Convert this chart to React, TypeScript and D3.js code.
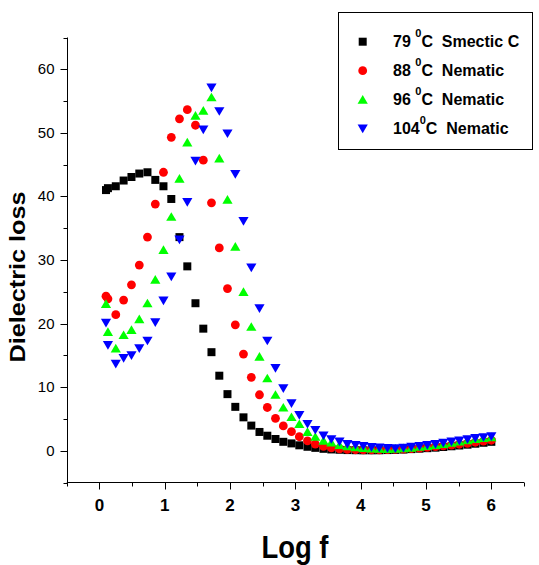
import React from 'react';
import * as d3 from 'd3';

// ---- data ----
const logF = [0.10, 0.13, 0.25, 0.37, 0.49, 0.61, 0.735, 0.855, 0.98, 1.10, 1.225, 1.345, 1.47, 1.59, 1.715, 1.835, 1.96, 2.08, 2.205, 2.325, 2.45, 2.57, 2.695, 2.815, 2.94, 3.06, 3.185, 3.305, 3.43, 3.55, 3.675, 3.795, 3.92, 4.04, 4.165, 4.285, 4.41, 4.53, 4.655, 4.775, 4.90, 5.02, 5.145, 5.265, 5.39, 5.51, 5.635, 5.755, 5.88, 6.00];

const loss79 = [41.0, 41.3, 41.6, 42.5, 43.05, 43.6, 43.8, 42.6, 41.6, 39.6, 33.6, 29.0, 23.2, 19.2, 15.5, 11.8, 8.9, 6.9, 5.25, 3.95, 2.95, 2.36, 1.84, 1.4, 1.15, 0.85, 0.62, 0.45, 0.3,
  0.2, 0.15, 0.1, 0.08, 0.06, 0.06, 0.07, 0.1, 0.13, 0.18, 0.25, 0.32, 0.4, 0.48, 0.58, 0.7, 0.82, 0.95, 1.1, 1.25, 1.4];
const loss88 = [24.3, 23.9, 21.4, 23.7, 26.1, 29.2, 33.6, 38.8, 43.8, 49.3, 52.2, 53.65, 51.2, 45.7, 39.0, 31.9, 25.5, 19.8, 15.2, 11.55, 8.8, 6.8, 5.1, 3.9, 3.0, 2.2, 1.55, 1.05, 0.7,
  0.45, 0.3, 0.2, 0.15, 0.12, 0.12, 0.13, 0.16, 0.2, 0.26, 0.33, 0.42, 0.52, 0.63, 0.75, 0.88, 1.02, 1.17, 1.33, 1.5, 1.65];
const loss96 = [23.1, 18.7, 16.1, 18.2, 19.0, 20.7, 23.2, 26.9, 31.6, 36.8, 42.8, 48.5, 52.7, 53.5, 55.6, 46.0, 39.5, 32.1, 25.0, 19.5, 14.8, 11.4, 8.8, 6.8, 5.3, 4.2, 2.95, 2.2, 1.6,
  1.3, 0.9, 0.7, 0.55, 0.45, 0.38, 0.33, 0.3, 0.32, 0.4, 0.5, 0.62, 0.76, 0.9, 1.07, 1.25, 1.45, 1.65, 1.85, 2.0, 2.15];
const loss104 = [20.1, 16.6, 13.65, 14.55, 15.0, 16.1, 17.3, 20.2, 23.6, 27.4, 33.2, 39.1, 45.6, 50.5, 57.1, 53.4, 49.9, 43.5, 36.1, 28.8, 22.4, 17.3, 13.0, 9.8, 7.45, 5.6, 4.2, 3.26, 2.37,
  1.8, 1.42, 1.05, 0.9, 0.74, 0.55, 0.5, 0.4, 0.38, 0.45, 0.6, 0.72, 0.88, 1.03, 1.22, 1.42, 1.6, 1.8, 1.98, 2.12, 2.25];

const seriesTemps = ['79', '88', '96', '104'];
const seriesPhases = ['Smectic C', 'Nematic', 'Nematic', 'Nematic'];
const seriesValues = [loss79, loss88, loss96, loss104];
const seriesShapes = ['square', 'circle', 'up', 'down'];
const seriesColors = ['#000000', '#ff0000', '#00ff00', '#0000ff'];

const xMajorTicks = [0, 1, 2, 3, 4, 5, 6];
const xMinorTicks = [-0.5, 0.5, 1.5, 2.5, 3.5, 4.5, 5.5, 6.5];
const yMajorTicks = [0, 10, 20, 30, 40, 50, 60];
const yMinorTicks = [-5, 5, 15, 25, 35, 45, 55, 65];

const xTitle = 'Log f';
const yTitle = 'Dielectric loss';

// ---- layout ----
const W = 539, H = 565;
const x = d3.scaleLinear().domain([-0.5, 6.5]).range([66.8, 524]);
const y = d3.scaleLinear().domain([-5, 65]).range([482.5, 37.5]);
const FONT = "'Liberation Sans', Arial, sans-serif";

function Marker({ shape, cx, cy, color }: { shape: string; cx: number; cy: number; color: string }) {
  if (shape === 'circle') return <circle cx={cx} cy={cy} r={4.4} fill={color} />;
  let d = '';
  if (shape === 'square') d = `M${cx - 4},${cy - 4}h8v8h-8Z`;
  else if (shape === 'up') d = `M${cx},${cy - 4.6}L${cx + 5.1},${cy + 4.1}L${cx - 5.1},${cy + 4.1}Z`;
  else d = `M${cx},${cy + 4.6}L${cx + 5.1},${cy - 4.1}L${cx - 5.1},${cy - 4.1}Z`;
  return <path d={d} fill={color} />;
}

export default function App() {
  const x0 = x.range()[0];
  const x1 = x.range()[1];
  const yb = y.range()[0];
  const yt = y.range()[1];
  const axisX = 67.5;
  return (
    <svg width={W} height={H} style={{ position: 'absolute', left: 0, top: 0, background: '#fff' }} fontFamily={FONT}>
      <rect x={0} y={0} width={W} height={H} fill="#fff" />
      {/* data */}
      {seriesValues.map((vals, si) => (
        <g key={si}>
          {vals.map((v, i) => (
            <Marker key={i} shape={seriesShapes[si]} cx={x(logF[i])} cy={y(v)} color={seriesColors[si]} />
          ))}
        </g>
      ))}
      {/* axes */}
      <line x1={axisX} x2={axisX} y1={yt} y2={yb} stroke="#000" strokeWidth={1} />
      <line x1={x0} x2={x1} y1={yb} y2={yb} stroke="#000" strokeWidth={1} />
      {xMajorTicks.map(t => (
        <g key={'xm' + t}>
          <line x1={Math.round(x(t)) + 0.5} x2={Math.round(x(t)) + 0.5} y1={yb} y2={yb + 7} stroke="#000" />
          <text x={x(t)} y={511} textAnchor="middle" fontWeight="bold" fontSize={17}>{t}</text>
        </g>
      ))}
      {xMinorTicks.map(t => (
        <line key={'xn' + t} x1={Math.round(x(t)) + 0.5} x2={Math.round(x(t)) + 0.5} y1={yb} y2={yb + 4} stroke="#000" />
      ))}
      {yMajorTicks.map(t => (
        <g key={'ym' + t}>
          <line x1={axisX - 7} x2={axisX} y1={Math.round(y(t)) + 0.5} y2={Math.round(y(t)) + 0.5} stroke="#000" />
          <text x={54.5} y={y(t) + 5} textAnchor="end" fontSize={15}>{t}</text>
        </g>
      ))}
      {yMinorTicks.map(t => (
        <line key={'yn' + t} x1={axisX - 4} x2={axisX} y1={Math.round(y(t)) + 0.5} y2={Math.round(y(t)) + 0.5} stroke="#000" />
      ))}
      {/* titles */}
      <text x={295} y={558} textAnchor="middle" fontWeight="bold" fontSize={31} textLength={67} lengthAdjust="spacingAndGlyphs">{xTitle}</text>
      <text transform="translate(25,277) rotate(-90)" textAnchor="middle" fontWeight="bold" fontSize={22} textLength={171} lengthAdjust="spacingAndGlyphs">{yTitle}</text>
      {/* legend */}
      <rect x={338.5} y={12.5} width={194} height={137} fill="#fff" stroke="#000" strokeWidth={1} />
      {seriesTemps.map((tmp, i) => {
        const by = 46.7 + i * 29;
        return (
          <g key={'lg' + i}>
            <Marker shape={seriesShapes[i]} cx={362.7} cy={by - 5} color={seriesColors[i]} />
            <text x={393} y={by} fontWeight="bold" fontSize={16} style={{ whiteSpace: 'pre' }}>
              {tmp.length < 3 ? tmp + ' ' : tmp}
              <tspan dy={-10} fontSize={11}>0</tspan>
              <tspan dy={10}>{'C  ' + seriesPhases[i]}</tspan>
            </text>
          </g>
        );
      })}
    </svg>
  );
}
